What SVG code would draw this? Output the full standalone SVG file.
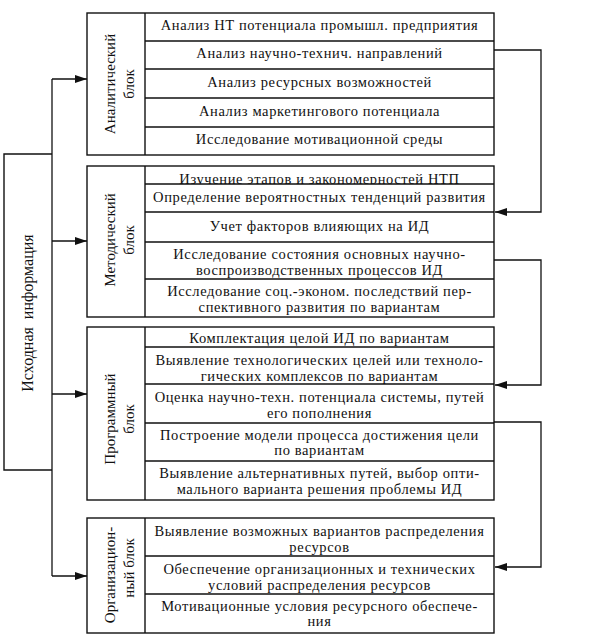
<svg xmlns="http://www.w3.org/2000/svg" width="592" height="644" viewBox="0 0 592 644">
<style>
.box{fill:none;stroke:#111;stroke-width:1.4}
.ln{fill:none;stroke:#111;stroke-width:1.3}
.t{font-family:"Liberation Serif","Times New Roman",serif;font-size:14.5px;text-anchor:middle;fill:#111;letter-spacing:0.62px}
.lb{font-family:"Liberation Serif","Times New Roman",serif;font-size:15px;text-anchor:middle;fill:#111}
.src{font-family:"Liberation Serif","Times New Roman",serif;font-size:16px;text-anchor:middle;fill:#111}
</style>
<defs>
<marker id="ah" markerWidth="12" markerHeight="8" refX="12" refY="4" orient="auto" markerUnits="userSpaceOnUse">
<path d="M0,0 L12,4 L0,8 Z" fill="#111"/>
</marker>
<clipPath id="clipr1"><rect x="146" y="167" width="347" height="17"/></clipPath>
</defs>
<rect width="592" height="644" fill="#fff"/>

<g id="source">
<path class="box" d="M52,154 H4 V470 H52"/>
<text class="src" transform="translate(33,313) rotate(-90)" xml:space="preserve">Исходная  информация</text>
</g>

<g id="analytic">
<rect class="box" x="87" y="13" width="407" height="142"/>
<path class="box" d="M145,13 V155 M145,41 H494 M145,69 H494 M145,98 H494 M145,127 H494"/>
<text class="lb" transform="translate(115,84) rotate(-90)">Аналитический<tspan x="0" dy="19">блок</tspan></text>
<text class="t" x="319.5" y="30">Анализ НТ потенциала промышл. предприятия</text>
<text class="t" x="319.5" y="58">Анализ научно-технич. направлений</text>
<text class="t" x="319.5" y="87">Анализ ресурсных возможностей</text>
<text class="t" x="319.5" y="116">Анализ маркетингового потенциала</text>
<text class="t" x="319.5" y="144">Исследование мотивационной среды</text>
</g>

<g id="methodic">
<rect class="box" x="87" y="166" width="407" height="151"/>
<path class="box" d="M145,166 V317 M145,184 H494 M145,212 H494 M145,242 H494 M145,279 H494"/>
<text class="lb" transform="translate(115,240) rotate(-90)">Методический<tspan x="0" dy="19">блок</tspan></text>
<text class="t" x="319.5" y="184" clip-path="url(#clipr1)">Изучение этапов и закономерностей НТП</text>
<text class="t" x="319.5" y="202">Определение вероятностных тенденций развития</text>
<text class="t" x="319.5" y="231">Учет факторов влияющих на ИД</text>
<text class="t" x="319.5" y="259">Исследование состояния основных научно-</text>
<text class="t" x="319.5" y="275">воспроизводственных процессов ИД</text>
<text class="t" x="319.5" y="296">Исследование соц.-эконом. последствий пер-</text>
<text class="t" x="319.5" y="312">спективного развития по вариантам</text>
</g>

<g id="program">
<rect class="box" x="87" y="327" width="407" height="173"/>
<path class="box" d="M145,327 V500 M145,347 H494 M145,384 H494 M145,423 H494 M145,461 H494"/>
<text class="lb" transform="translate(115,419) rotate(-90)">Программный<tspan x="0" dy="19">блок</tspan></text>
<text class="t" x="319.5" y="343">Комплектация целой ИД по вариантам</text>
<text class="t" x="319.5" y="365">Выявление технологических целей или техноло-</text>
<text class="t" x="319.5" y="381">гических комплексов по вариантам</text>
<text class="t" x="319.5" y="402">Оценка научно-техн. потенциала системы, путей</text>
<text class="t" x="319.5" y="418">его пополнения</text>
<text class="t" x="319.5" y="440">Построение модели процесса достижения цели</text>
<text class="t" x="319.5" y="455">по вариантам</text>
<text class="t" x="319.5" y="478">Выявление альтернативных путей, выбор опти-</text>
<text class="t" x="319.5" y="494">мального варианта решения проблемы ИД</text>
</g>

<g id="organization">
<rect class="box" x="87" y="518" width="407" height="115"/>
<path class="box" d="M145,518 V633 M145,556 H494 M145,594 H494"/>
<text class="lb" transform="translate(115,575) rotate(-90)">Организацион-</text>
<text class="lb" transform="translate(134,568) rotate(-90)">ный блок</text>
<text class="t" x="319.5" y="536">Выявление возможных вариантов распределения</text>
<text class="t" x="319.5" y="552">ресурсов</text>
<text class="t" x="319.5" y="574">Обеспечение организационных и технических</text>
<text class="t" x="319.5" y="590">условий распределения ресурсов</text>
<text class="t" x="319.5" y="611">Мотивационные условия ресурсного обеспече-</text>
<text class="t" x="319.5" y="626">ния</text>
</g>

<g id="connectors">
<path class="ln" d="M52,79 V576"/>
<path class="ln" d="M52,79 H87" marker-end="url(#ah)"/>
<path class="ln" d="M52,241 H87" marker-end="url(#ah)"/>
<path class="ln" d="M52,394 H87" marker-end="url(#ah)"/>
<path class="ln" d="M52,576 H87" marker-end="url(#ah)"/>
<path class="ln" d="M494,50 H541 V212 H495" marker-end="url(#ah)"/>
<path class="ln" d="M494,260 H541 V385 H495" marker-end="url(#ah)"/>
<path class="ln" d="M494,422 H541 V567 H495" marker-end="url(#ah)"/>
</g>
</svg>
